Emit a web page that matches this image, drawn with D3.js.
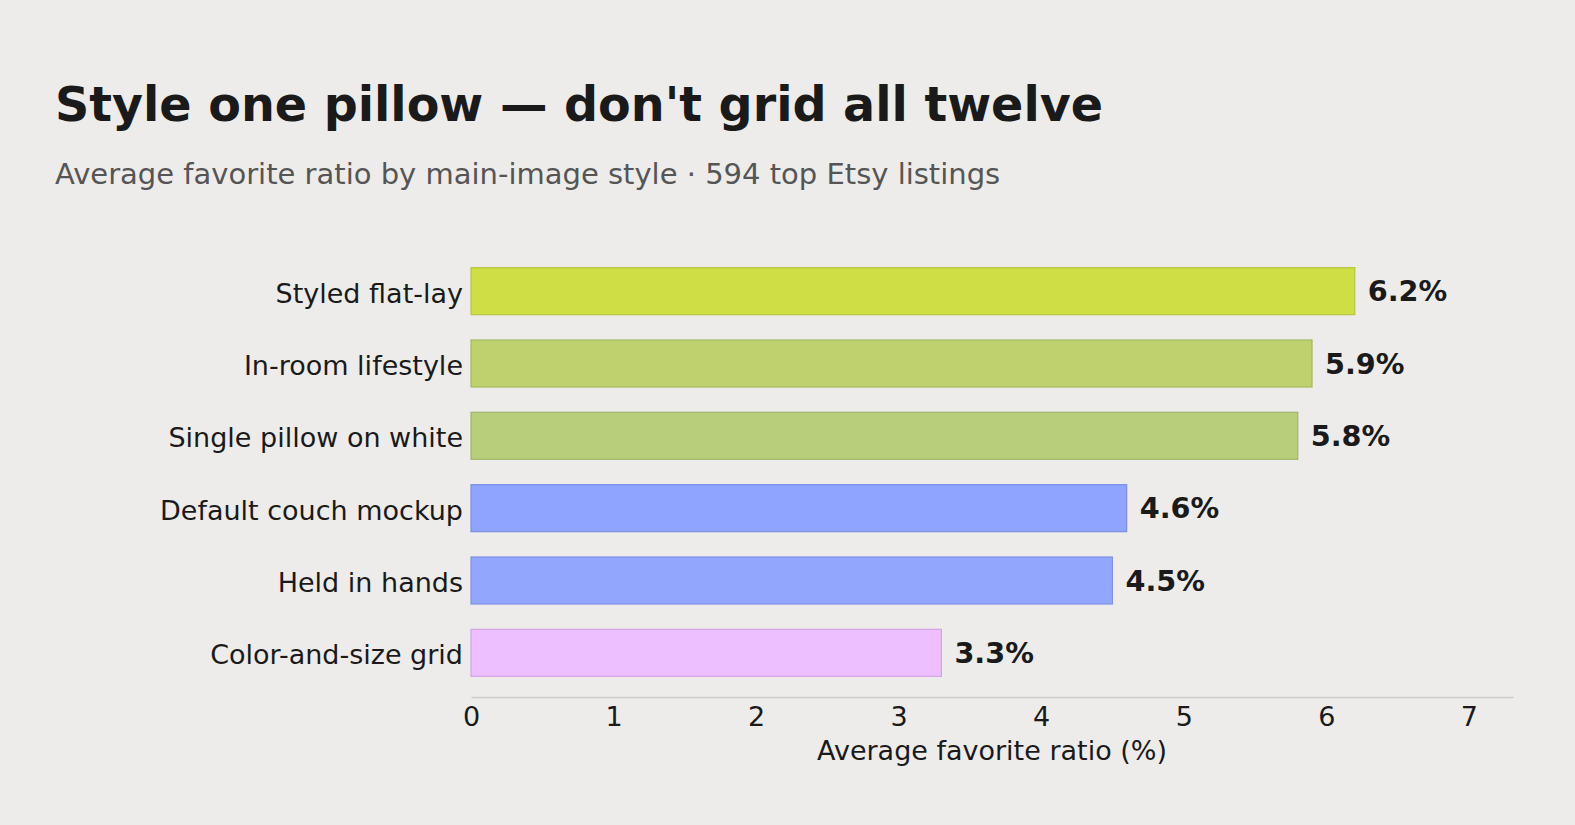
<!DOCTYPE html>
<html>
<head>
<meta charset="utf-8">
<script src="https://cdn.jsdelivr.net/npm/d3@7"></script>
<style>
  html, body { margin: 0; padding: 0; background: #edecea; }
  svg { display: block; font-family: "DejaVu Sans", sans-serif; }
</style>
</head>
<body>
<svg id="chart" width="1575" height="825"></svg>
<script>
// ---- data ----
const categories = [
    'Styled flat-lay',
    'In-room lifestyle',
    'Single pillow on white',
    'Default couch mockup',
    'Held in hands',
    'Color-and-size grid'
];
const values = [6.2, 5.9, 5.8, 4.6, 4.5, 3.3];
const barColors = ['#cddf45', '#bed16e', '#b8ce7a', '#8fa4fe', '#93a6fe', '#eebffe'];
const edgeColors = ['#b5c640', '#a4b860', '#a2b56a', '#7b8fe6', '#7f91e6', '#d3a4e6'];
const xTicks = [0, 1, 2, 3, 4, 5, 6, 7];

const svg = d3.select('#chart');
const margin = { top: 255, right: 62, bottom: 136, left: 471 };
const W = 1575, H = 825;

const x = d3.scaleLinear()
    .domain([0, 7.31])
    .range([margin.left, W - margin.right]);

const y = d3.scaleBand()
    .domain(categories)
    .range([margin.top, H - margin.bottom])
    .paddingInner(0.35)
    .paddingOuter(0.175);

// Title + subtitle
svg.append('text')
    .attr('x', 55).attr('y', 121)
    .attr('fill', '#1a1a1a')
    .style('font-size', '47.6px')
    .style('font-weight', 'bold')
    .text("Style one pillow \u2014 don't grid all twelve");

svg.append('text')
    .attr('x', 55).attr('y', 184)
    .attr('fill', '#555555')
    .style('font-size', '29px')
    .text('Average favorite ratio by main-image style \u00b7 594 top Etsy listings');

// Bars
svg.selectAll('rect.bar')
    .data(categories)
    .enter()
    .append('rect')
    .attr('class', 'bar')
    .attr('x', x(0))
    .attr('y', d => y(d))
    .attr('width', (d, i) => x(values[i]) - x(0))
    .attr('height', y.bandwidth())
    .attr('fill', (d, i) => barColors[i])
    .attr('stroke', (d, i) => edgeColors[i])
    .attr('stroke-width', 1.2);

// Value labels
svg.selectAll('text.val')
    .data(categories)
    .enter()
    .append('text')
    .attr('class', 'val')
    .attr('x', (d, i) => x(values[i]) + 13)
    .attr('y', d => y(d) + y.bandwidth() / 2)
    .attr('dy', '0.36em')
    .attr('fill', '#1a1a1a')
    .style('font-size', '28.7px')
    .style('font-weight', 'bold')
    .text((d, i) => values[i].toFixed(1) + '%');

// Y axis (labels only)
const yAxis = svg.append('g')
    .attr('transform', `translate(${margin.left},0)`)
    .call(d3.axisLeft(y).tickSize(0).tickPadding(8));
yAxis.select('.domain').remove();
yAxis.selectAll('text')
    .attr('fill', '#1a1a1a')
    .attr('dy', '0.42em')
    .style('font-size', '27px')
    .style('font-family', '"DejaVu Sans", sans-serif');

// X axis
const xAxis = svg.append('g')
    .attr('transform', `translate(0,${H - margin.bottom + 8})`)
    .call(d3.axisBottom(x).tickValues(xTicks).tickFormat(d3.format('d')).tickSize(0).tickPadding(10));
xAxis.select('.domain')
    .attr('stroke', '#cccccc')
    .attr('stroke-width', 1.5);
xAxis.selectAll('text')
    .attr('fill', '#1a1a1a')
    .style('font-size', '27px')
    .style('font-family', '"DejaVu Sans", sans-serif');

svg.append('text')
    .attr('x', (x(0) + x(7.31)) / 2)
    .attr('y', 760)
    .attr('text-anchor', 'middle')
    .attr('fill', '#1a1a1a')
    .style('font-size', '27px')
    .text('Average favorite ratio (%)');
</script>
</body>
</html>
